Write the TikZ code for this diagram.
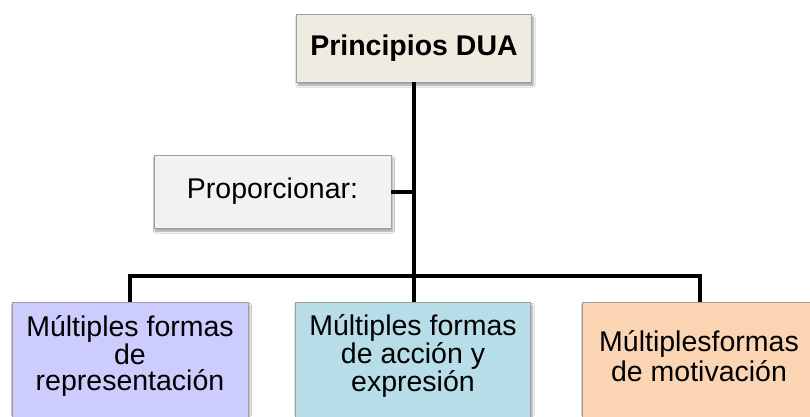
\documentclass[tikz,border=0pt]{standalone}
\usepackage{fontspec}
\setmainfont{Liberation Sans}
\usetikzlibrary{shadows.blur}
\definecolor{topfill}{HTML}{EEECE1}
\definecolor{propfill}{HTML}{F2F2F2}
\definecolor{lavfill}{HTML}{CCCCFF}
\definecolor{bluefill}{HTML}{B7DDE8}
\definecolor{peachfill}{HTML}{FBD4B4}
\definecolor{edgegray}{HTML}{A0A0A0}
\tikzset{
  box/.style={draw=edgegray, line width=0.8pt, inner sep=0pt},
  shadowed/.style={blur shadow={shadow xshift=1.5pt, shadow yshift=-3pt, shadow blur steps=6, shadow opacity=40}},
  txt/.style={align=center, inner sep=0pt, font=\fontsize{28.5}{31}\selectfont},
  tighttxt/.style={align=center, inner sep=0pt, font=\fontsize{28.5}{26}\selectfont},
  loosetxt/.style={align=center, inner sep=0pt, font=\fontsize{28.5}{30}\selectfont},
  conn/.style={draw=black, line width=4pt, line join=miter},
}
\begin{document}
\begin{tikzpicture}[x=1pt, y=-1pt]
\useasboundingbox (0,0) rectangle (810,416);
\clip (0,0) rectangle (810,416);
\fill[white] (0,0) rectangle (810,416);
% top
\node[box, shadowed, fill=topfill, minimum width=235pt, minimum height=68pt, txt, font=\fontsize{28.5}{31}\selectfont\bfseries] (top) at (414,48) {Principios DUA};
% proportionar
\node[box, shadowed, fill=propfill, minimum width=237pt, minimum height=73pt, txt] (prop) at (272.5,191.5) {Proporcionar:};
% bottom boxes
\node[box, shadowed, fill=lavfill, anchor=north, minimum width=236pt, minimum height=150pt] (b1) at (130,302) {};
\node[box, shadowed, fill=bluefill, anchor=north, minimum width=235pt, minimum height=150pt] (b2) at (413,302) {};
\node[box, shadowed, fill=peachfill, anchor=north, minimum width=236pt, minimum height=150pt] (b3) at (700,302) {};
\node[tighttxt] (t1) at (130,356) {Múltiples formas\\de\\representación};
\node[tighttxt] (t2) at (413,356) {Múltiples formas\\de acción y\\expresión};
\node[loosetxt] (t3) at (699,356.5) {Múltiplesformas\\de motivación};
% connectors
\coordinate (j) at (414,276);
\draw[conn] (top.south -| j) -- (j);
\draw[conn] (prop.east) -- (prop.east -| j);
\draw[conn] (b1.north) -- (b1.north |- j) -- (b3.north |- j) -- (b3.north);
\draw[conn] (b2.north -| j) -- (j);
\end{tikzpicture}
\end{document}
